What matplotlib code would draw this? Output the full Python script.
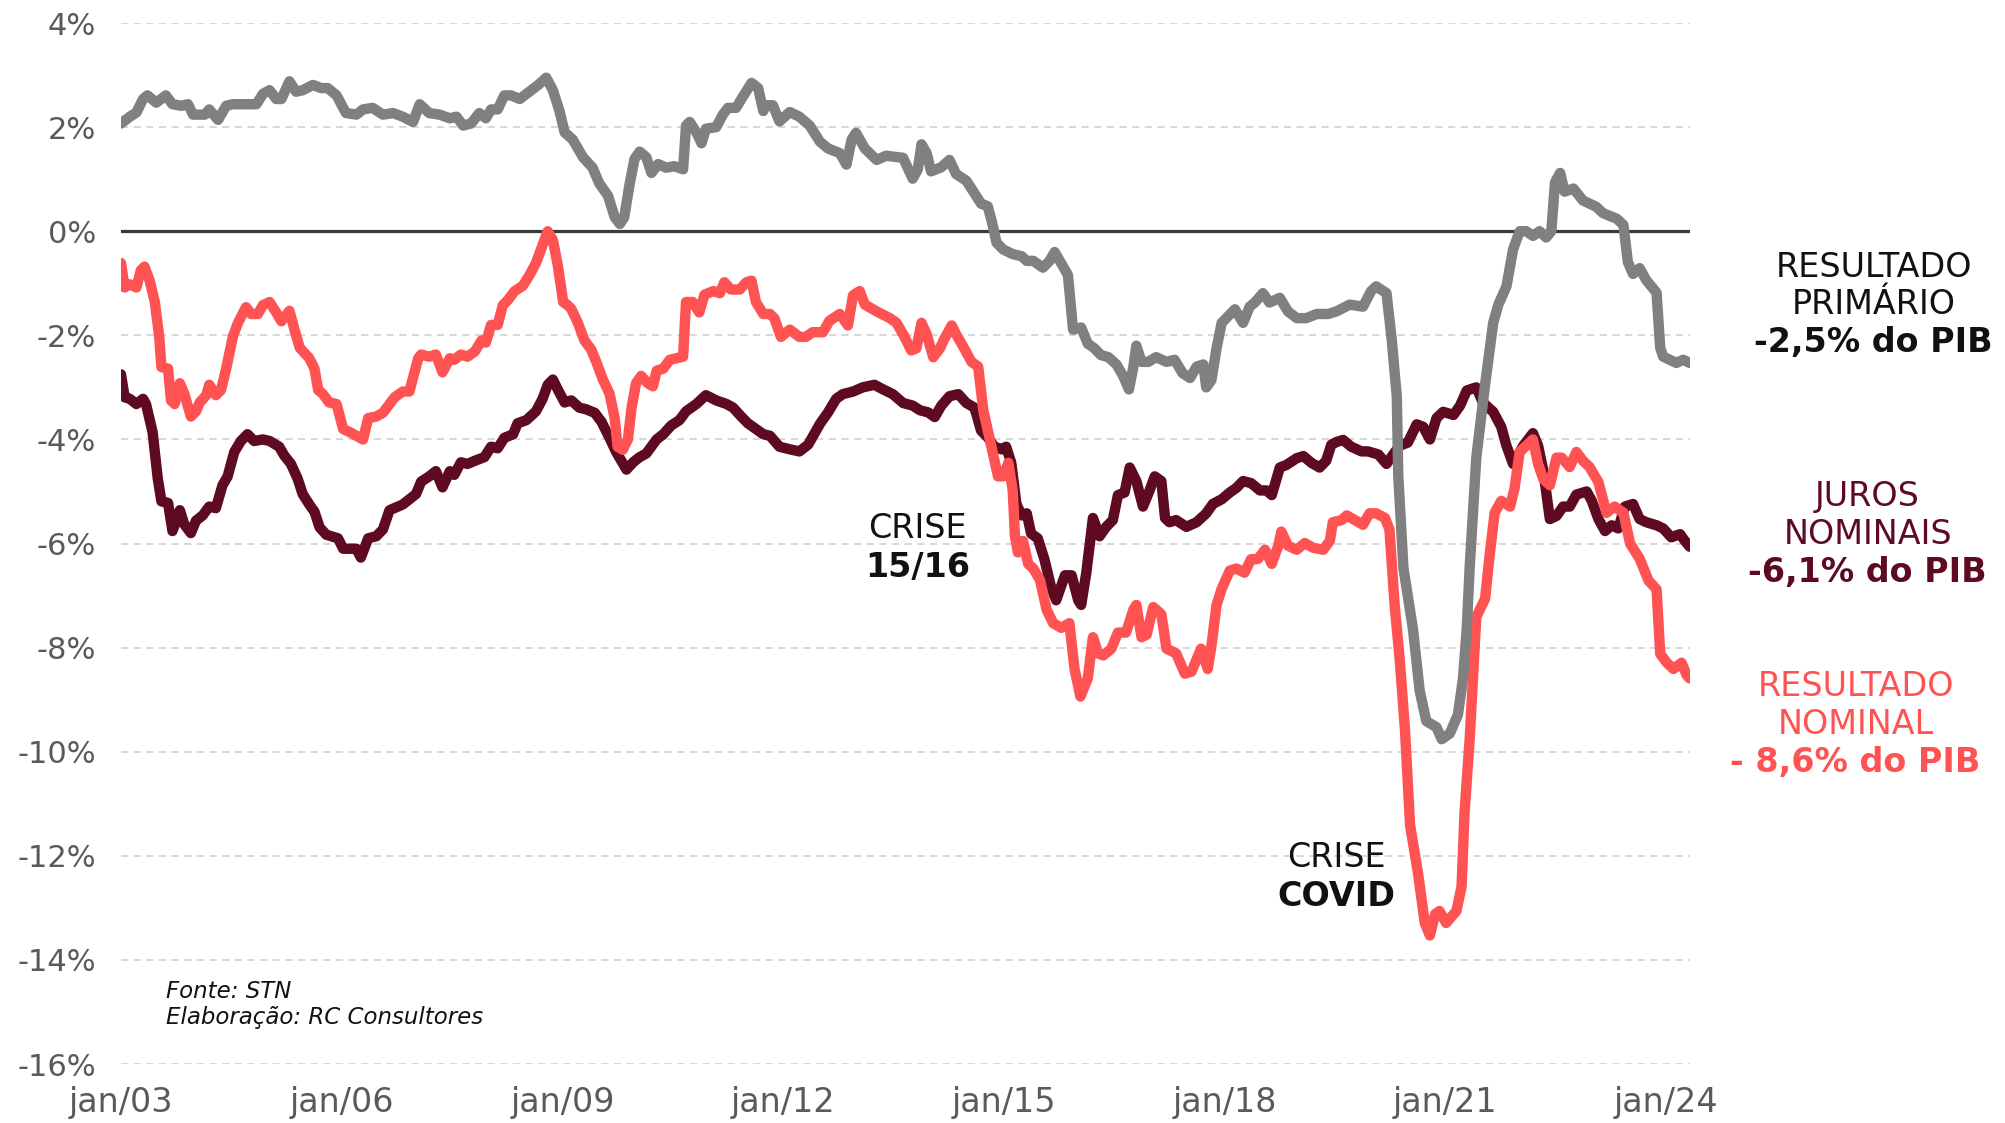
import matplotlib.pyplot as plt
import numpy as np

# Resultado primário, % do PIB (acumulado 12 meses)
prim_t = [2003.00, 2003.12, 2003.21, 2003.30, 2003.36, 2003.48, 2003.61, 2003.70, 2003.82, 2003.91,
          2003.98, 2004.14, 2004.20, 2004.32, 2004.43, 2004.52, 2004.75, 2004.84, 2004.93, 2005.02,
          2005.11, 2005.18, 2005.29, 2005.38, 2005.47, 2005.61, 2005.72, 2005.81, 2005.93, 2006.02,
          2006.06, 2006.20, 2006.29, 2006.42, 2006.56, 2006.70, 2006.83, 2006.97, 2007.06, 2007.19,
          2007.33, 2007.47, 2007.56, 2007.65, 2007.76, 2007.87, 2007.96, 2008.03, 2008.12, 2008.21,
          2008.30, 2008.42, 2008.55, 2008.67, 2008.78, 2008.87, 2008.96, 2009.03, 2009.14, 2009.28,
          2009.41, 2009.50, 2009.62, 2009.71, 2009.78, 2009.84, 2009.91, 2009.98, 2010.05, 2010.14,
          2010.21, 2010.30, 2010.41, 2010.52, 2010.64, 2010.68, 2010.73, 2010.82, 2010.89, 2010.95,
          2011.09, 2011.18, 2011.25, 2011.36, 2011.45, 2011.57, 2011.66, 2011.73, 2011.77, 2011.86,
          2011.95, 2012.09, 2012.22, 2012.36, 2012.50, 2012.61, 2012.77, 2012.86, 2012.93, 2012.99,
          2013.11, 2013.27, 2013.40, 2013.63, 2013.76, 2013.83, 2013.88, 2013.95, 2014.01, 2014.15,
          2014.26, 2014.35, 2014.49, 2014.63, 2014.69, 2014.78, 2014.83, 2014.90, 2014.99, 2015.12,
          2015.24, 2015.31, 2015.40, 2015.53, 2015.62, 2015.69, 2015.78, 2015.87, 2015.94, 2016.05,
          2016.14, 2016.23, 2016.32, 2016.42, 2016.53, 2016.62, 2016.70, 2016.76, 2016.80, 2016.87,
          2016.96, 2017.07, 2017.21, 2017.32, 2017.43, 2017.53, 2017.62, 2017.71, 2017.75, 2017.82,
          2017.89, 2017.96, 2018.05, 2018.14, 2018.25, 2018.34, 2018.41, 2018.52, 2018.61, 2018.75,
          2018.86, 2018.98, 2019.11, 2019.25, 2019.41, 2019.52, 2019.70, 2019.88, 2019.99, 2020.06,
          2020.20, 2020.27, 2020.34, 2020.36, 2020.43, 2020.56, 2020.65, 2020.74, 2020.88, 2020.95,
          2021.06, 2021.17, 2021.24, 2021.29, 2021.33, 2021.42, 2021.54, 2021.65, 2021.72, 2021.83,
          2021.92, 2022.01, 2022.10, 2022.19, 2022.28, 2022.37, 2022.44, 2022.49, 2022.56, 2022.62,
          2022.74, 2022.87, 2022.96, 2023.05, 2023.14, 2023.24, 2023.33, 2023.42, 2023.48, 2023.55,
          2023.64, 2023.73, 2023.87, 2023.92, 2023.96, 2024.05, 2024.14, 2024.23, 2024.32]
prim_v = [2.07, 2.20, 2.28, 2.54, 2.61, 2.47, 2.61, 2.44, 2.41, 2.44,
          2.24, 2.24, 2.34, 2.14, 2.41, 2.44, 2.44, 2.44, 2.64, 2.71,
          2.54, 2.54, 2.88, 2.68, 2.71, 2.81, 2.75, 2.75, 2.61, 2.37,
          2.27, 2.24, 2.34, 2.37, 2.24, 2.27, 2.20, 2.10, 2.44, 2.27,
          2.24, 2.17, 2.20, 2.03, 2.07, 2.27, 2.17, 2.34, 2.34, 2.61,
          2.61, 2.54, 2.68, 2.81, 2.95, 2.71, 2.31, 1.90, 1.76, 1.42,
          1.22, 0.92, 0.68, 0.27, 0.14, 0.27, 0.88, 1.39, 1.53, 1.42,
          1.12, 1.29, 1.22, 1.25, 1.19, 2.03, 2.10, 1.90, 1.69, 1.97,
          2.00, 2.24, 2.37, 2.37, 2.58, 2.85, 2.75, 2.31, 2.42, 2.42,
          2.11, 2.29, 2.20, 2.03, 1.72, 1.59, 1.50, 1.28, 1.76, 1.89,
          1.59, 1.37, 1.45, 1.41, 1.01, 1.19, 1.67, 1.50, 1.15, 1.23,
          1.37, 1.10, 0.97, 0.66, 0.53, 0.48, 0.22, -0.22, -0.35, -0.44,
          -0.48, -0.57, -0.57, -0.70, -0.57, -0.40, -0.62, -0.84, -1.89, -1.85,
          -2.16, -2.25, -2.38, -2.42, -2.56, -2.78, -3.04, -2.60, -2.20, -2.51,
          -2.51, -2.42, -2.51, -2.47, -2.73, -2.82, -2.60, -2.56, -3.00, -2.86,
          -2.25, -1.76, -1.63, -1.50, -1.76, -1.45, -1.37, -1.19, -1.37, -1.28,
          -1.54, -1.67, -1.67, -1.59, -1.59, -1.54, -1.41, -1.45, -1.15, -1.06,
          -1.19, -2.07, -3.18, -4.71, -6.47, -7.65, -8.82, -9.41, -9.53, -9.76,
          -9.65, -9.29, -8.59, -7.65, -6.47, -4.35, -2.94, -1.76, -1.41, -1.06,
          -0.35, 0.00, 0.00, -0.09, 0.00, -0.12, 0.00, 0.94, 1.12, 0.76,
          0.82, 0.59, 0.53, 0.47, 0.35, 0.29, 0.24, 0.12, -0.59, -0.82,
          -0.71, -0.94, -1.18, -2.24, -2.41, -2.47, -2.53, -2.47, -2.53]

# Juros nominais, % do PIB
juros_t = [2003.00, 2003.05, 2003.12, 2003.21, 2003.30, 2003.34, 2003.43, 2003.50, 2003.55, 2003.64,
           2003.70, 2003.80, 2003.86, 2003.95, 2004.02, 2004.11, 2004.20, 2004.29, 2004.38, 2004.45,
           2004.54, 2004.63, 2004.72, 2004.81, 2004.93, 2005.02, 2005.15, 2005.22, 2005.31, 2005.40,
           2005.47, 2005.56, 2005.63, 2005.70, 2005.79, 2005.95, 2006.02, 2006.20, 2006.26, 2006.36,
           2006.47, 2006.56, 2006.65, 2006.83, 2006.92, 2007.01, 2007.08, 2007.19, 2007.28, 2007.37,
           2007.47, 2007.53, 2007.62, 2007.71, 2007.81, 2007.94, 2008.03, 2008.12, 2008.21, 2008.33,
           2008.39, 2008.51, 2008.64, 2008.73, 2008.80, 2008.87, 2008.94, 2009.03, 2009.12, 2009.23,
           2009.32, 2009.44, 2009.53, 2009.64, 2009.73, 2009.87, 2009.96, 2010.05, 2010.14, 2010.28,
           2010.37, 2010.48, 2010.59, 2010.68, 2010.82, 2010.95, 2011.09, 2011.23, 2011.32, 2011.43,
           2011.52, 2011.63, 2011.73, 2011.82, 2011.95, 2012.09, 2012.22, 2012.34, 2012.50, 2012.61,
           2012.72, 2012.81, 2012.95, 2013.08, 2013.24, 2013.36, 2013.49, 2013.63, 2013.76, 2013.86,
           2013.97, 2014.06, 2014.15, 2014.26, 2014.38, 2014.49, 2014.60, 2014.69, 2014.78, 2014.87,
           2014.97, 2015.03, 2015.10, 2015.17, 2015.24, 2015.31, 2015.37, 2015.46, 2015.55, 2015.64,
           2015.71, 2015.83, 2015.92, 2016.01, 2016.05, 2016.12, 2016.21, 2016.30, 2016.39, 2016.48,
           2016.55, 2016.64, 2016.71, 2016.80, 2016.89, 2016.98, 2017.05, 2017.14, 2017.19, 2017.25,
           2017.34, 2017.48, 2017.62, 2017.75, 2017.84, 2017.96, 2018.07, 2018.16, 2018.25, 2018.36,
           2018.48, 2018.57, 2018.64, 2018.75, 2018.84, 2018.98, 2019.07, 2019.18, 2019.29, 2019.38,
           2019.45, 2019.52, 2019.61, 2019.72, 2019.86, 2019.95, 2020.09, 2020.20, 2020.29, 2020.38,
           2020.49, 2020.61, 2020.70, 2020.79, 2020.88, 2020.97, 2021.11, 2021.20, 2021.29, 2021.42,
           2021.51, 2021.65, 2021.76, 2021.83, 2021.92, 2022.06, 2022.19, 2022.26, 2022.33, 2022.42,
           2022.51, 2022.60, 2022.69, 2022.78, 2022.92, 2022.99, 2023.08, 2023.17, 2023.26, 2023.35,
           2023.44, 2023.55, 2023.64, 2023.73, 2023.87, 2023.96, 2024.07, 2024.19, 2024.25, 2024.32]
juros_v = [-2.75, -3.19, -3.22, -3.32, -3.22, -3.32, -3.86, -4.75, -5.19, -5.22,
           -5.76, -5.36, -5.63, -5.80, -5.56, -5.46, -5.29, -5.32, -4.88, -4.71,
           -4.24, -4.03, -3.90, -4.03, -4.00, -4.03, -4.14, -4.31, -4.47, -4.75,
           -5.05, -5.25, -5.39, -5.69, -5.83, -5.90, -6.10, -6.10, -6.27, -5.90,
           -5.86, -5.73, -5.36, -5.25, -5.15, -5.05, -4.81, -4.71, -4.61, -4.92,
           -4.61, -4.68, -4.44, -4.47, -4.41, -4.34, -4.14, -4.17, -3.97, -3.90,
           -3.69, -3.63, -3.46, -3.22, -2.95, -2.85, -3.05, -3.29, -3.25, -3.39,
           -3.42, -3.49, -3.66, -3.97, -4.24, -4.58, -4.44, -4.34, -4.27, -4.00,
           -3.90, -3.73, -3.63, -3.46, -3.32, -3.15, -3.25, -3.32, -3.39, -3.56,
           -3.69, -3.80, -3.90, -3.93, -4.14, -4.19, -4.23, -4.10, -3.70, -3.48,
           -3.22, -3.13, -3.08, -3.00, -2.95, -3.04, -3.13, -3.30, -3.35, -3.44,
           -3.48, -3.57, -3.35, -3.17, -3.13, -3.30, -3.39, -3.83, -3.96, -4.14,
           -4.19, -4.14, -4.45, -5.24, -5.46, -5.42, -5.81, -5.90, -6.30, -6.83,
           -7.09, -6.61, -6.61, -7.09, -7.18, -6.56, -5.51, -5.86, -5.68, -5.55,
           -5.07, -5.02, -4.54, -4.80, -5.29, -4.98, -4.71, -4.80, -5.51, -5.59,
           -5.55, -5.68, -5.59, -5.42, -5.24, -5.15, -5.02, -4.93, -4.80, -4.84,
           -4.98, -4.98, -5.07, -4.54, -4.49, -4.36, -4.32, -4.45, -4.54, -4.41,
           -4.10, -4.05, -4.01, -4.14, -4.23, -4.23, -4.29, -4.47, -4.29, -4.12,
           -4.06, -3.71, -3.76, -4.00, -3.59, -3.47, -3.53, -3.35, -3.06, -3.00,
           -3.29, -3.47, -3.76, -4.12, -4.47, -4.12, -3.88, -4.12, -4.59, -5.53,
           -5.47, -5.29, -5.29, -5.06, -5.00, -5.18, -5.53, -5.76, -5.65, -5.71,
           -5.29, -5.24, -5.53, -5.59, -5.65, -5.71, -5.88, -5.82, -5.94, -6.06]

# Resultado nominal, % do PIB
nom_t = [2003.00, 2003.05, 2003.12, 2003.21, 2003.27, 2003.32, 2003.39, 2003.46, 2003.52, 2003.55,
         2003.64, 2003.68, 2003.73, 2003.80, 2003.86, 2003.95, 2004.02, 2004.07, 2004.16, 2004.20,
         2004.29, 2004.36, 2004.43, 2004.52, 2004.59, 2004.70, 2004.77, 2004.86, 2004.93, 2005.02,
         2005.11, 2005.18, 2005.29, 2005.36, 2005.43, 2005.56, 2005.63, 2005.68, 2005.74, 2005.83,
         2005.93, 2006.02, 2006.11, 2006.20, 2006.29, 2006.36, 2006.47, 2006.56, 2006.65, 2006.72,
         2006.83, 2006.92, 2007.04, 2007.08, 2007.19, 2007.28, 2007.37, 2007.47, 2007.53, 2007.62,
         2007.71, 2007.81, 2007.90, 2007.96, 2008.03, 2008.12, 2008.19, 2008.26, 2008.35, 2008.46,
         2008.55, 2008.64, 2008.73, 2008.80, 2008.87, 2008.94, 2009.01, 2009.07, 2009.12, 2009.21,
         2009.30, 2009.39, 2009.46, 2009.55, 2009.64, 2009.71, 2009.75, 2009.82, 2009.89, 2009.94,
         2010.00, 2010.07, 2010.16, 2010.23, 2010.28, 2010.37, 2010.46, 2010.55, 2010.64, 2010.68,
         2010.77, 2010.86, 2010.93, 2011.05, 2011.14, 2011.20, 2011.29, 2011.41, 2011.50, 2011.57,
         2011.63, 2011.73, 2011.82, 2011.88, 2011.97, 2012.09, 2012.22, 2012.31, 2012.40, 2012.54,
         2012.63, 2012.77, 2012.88, 2012.95, 2013.04, 2013.11, 2013.27, 2013.45, 2013.54, 2013.65,
         2013.74, 2013.81, 2013.88, 2013.95, 2014.04, 2014.13, 2014.19, 2014.29, 2014.35, 2014.44,
         2014.56, 2014.65, 2014.72, 2014.81, 2014.92, 2014.99, 2015.06, 2015.12, 2015.15, 2015.19,
         2015.26, 2015.33, 2015.40, 2015.49, 2015.58, 2015.67, 2015.78, 2015.89, 2015.96, 2016.04,
         2016.14, 2016.21, 2016.28, 2016.35, 2016.46, 2016.55, 2016.66, 2016.76, 2016.80, 2016.87,
         2016.94, 2017.03, 2017.14, 2017.21, 2017.34, 2017.46, 2017.55, 2017.68, 2017.77, 2017.82,
         2017.89, 2017.96, 2018.07, 2018.16, 2018.27, 2018.36, 2018.45, 2018.55, 2018.64, 2018.73,
         2018.77, 2018.86, 2018.98, 2019.09, 2019.20, 2019.34, 2019.43, 2019.47, 2019.59, 2019.66,
         2019.77, 2019.88, 2019.97, 2020.06, 2020.18, 2020.24, 2020.31, 2020.38, 2020.45, 2020.52,
         2020.63, 2020.72, 2020.79, 2020.86, 2020.92, 2021.01, 2021.15, 2021.22, 2021.26, 2021.33,
         2021.42, 2021.54, 2021.60, 2021.67, 2021.76, 2021.88, 2021.94, 2022.01, 2022.10, 2022.19,
         2022.26, 2022.33, 2022.42, 2022.51, 2022.58, 2022.69, 2022.78, 2022.87, 2022.96, 2023.08,
         2023.19, 2023.30, 2023.42, 2023.51, 2023.64, 2023.76, 2023.87, 2023.92, 2024.01, 2024.10,
         2024.21, 2024.28, 2024.32]
nom_v = [-0.61, -1.08, -1.02, -1.08, -0.75, -0.68, -0.95, -1.36, -2.03, -2.61,
         -2.64, -3.25, -3.32, -2.92, -3.12, -3.56, -3.46, -3.29, -3.15, -2.95,
         -3.15, -3.05, -2.64, -2.03, -1.76, -1.46, -1.59, -1.59, -1.42, -1.36,
         -1.56, -1.73, -1.53, -1.90, -2.24, -2.44, -2.64, -3.05, -3.12, -3.29,
         -3.32, -3.80, -3.86, -3.93, -4.00, -3.59, -3.56, -3.49, -3.32, -3.19,
         -3.08, -3.08, -2.44, -2.37, -2.41, -2.37, -2.71, -2.44, -2.47, -2.37,
         -2.41, -2.31, -2.10, -2.14, -1.80, -1.80, -1.42, -1.32, -1.15, -1.05,
         -0.85, -0.61, -0.27, 0.00, -0.17, -0.68, -1.36, -1.42, -1.49, -1.76,
         -2.10, -2.27, -2.51, -2.85, -3.12, -3.59, -4.14, -4.20, -4.00, -3.39,
         -2.92, -2.78, -2.92, -2.98, -2.68, -2.64, -2.47, -2.44, -2.41, -1.36,
         -1.36, -1.56, -1.22, -1.15, -1.19, -0.98, -1.12, -1.12, -0.98, -0.95,
         -1.36, -1.59, -1.59, -1.67, -2.03, -1.89, -2.03, -2.03, -1.94, -1.94,
         -1.72, -1.59, -1.81, -1.23, -1.15, -1.41, -1.54, -1.67, -1.76, -2.03,
         -2.29, -2.25, -1.76, -1.98, -2.42, -2.25, -2.07, -1.81, -1.98, -2.20,
         -2.51, -2.60, -3.44, -4.01, -4.71, -4.71, -4.45, -4.98, -5.86, -6.17,
         -5.95, -6.39, -6.48, -6.70, -7.27, -7.53, -7.62, -7.53, -8.41, -8.94,
         -8.59, -7.80, -8.11, -8.15, -8.02, -7.71, -7.71, -7.27, -7.18, -7.80,
         -7.75, -7.22, -7.36, -8.02, -8.11, -8.50, -8.46, -8.02, -8.41, -7.97,
         -7.18, -6.87, -6.52, -6.48, -6.56, -6.30, -6.30, -6.12, -6.39, -6.04,
         -5.77, -6.04, -6.12, -5.99, -6.08, -6.12, -5.95, -5.59, -5.55, -5.46,
         -5.55, -5.64, -5.42, -5.42, -5.51, -5.73, -7.18, -8.24, -9.56, -11.41,
         -12.35, -13.29, -13.53, -13.12, -13.06, -13.29, -13.06, -12.59, -11.18, -9.76,
         -7.41, -7.06, -6.24, -5.41, -5.18, -5.29, -4.94, -4.24, -4.12, -4.00,
         -4.47, -4.76, -4.88, -4.35, -4.35, -4.53, -4.24, -4.41, -4.53, -4.82,
         -5.41, -5.29, -5.41, -6.00, -6.29, -6.71, -6.88, -8.12, -8.29, -8.41,
         -8.29, -8.53, -8.59]

tick_years = [2003, 2006, 2009, 2012, 2015, 2018, 2021, 2024]
tick_labels = ['jan/03', 'jan/06', 'jan/09', 'jan/12', 'jan/15', 'jan/18', 'jan/21', 'jan/24']
y_ticks = [4, 2, 0, -2, -4, -6, -8, -10, -12, -14, -16]

FONT = 'DejaVu Sans'
GRAY = '#808080'
WINE = '#5e0b22'
RED = '#ff5353'

fig = plt.figure(figsize=(20.06, 11.23), dpi=100)
ax = fig.add_axes([0.0603, 0.0525, 0.782, 0.927])

for v in y_ticks:
    if v == 0:
        ax.axhline(0, color='#3a3a3a', lw=2.3, zorder=2)
    else:
        ax.axhline(v, color='#d4d4d4', lw=1.3, ls=(0, (4, 3)), zorder=1)

ax.plot(juros_t, juros_v, color=WINE, lw=7.5, solid_capstyle='round', solid_joinstyle='round', zorder=3)
ax.plot(nom_t, nom_v, color=RED, lw=7.5, solid_capstyle='round', solid_joinstyle='round', zorder=4)
ax.plot(prim_t, prim_v, color=GRAY, lw=7.5, solid_capstyle='round', solid_joinstyle='round', zorder=5)

ax.set_xlim(2003.0, 2024.32)
ax.set_ylim(-16, 4)
ax.set_yticks(y_ticks)
ax.set_yticklabels([f'{v}%' for v in y_ticks])
ax.set_xticks(tick_years)
ax.set_xticklabels(tick_labels)
ax.tick_params(axis='y', length=0, labelsize=22, labelcolor='#5a5a5a', pad=18)
ax.tick_params(axis='x', length=0, labelsize=24, labelcolor='#5a5a5a', pad=16)
for lab in ax.get_xticklabels() + ax.get_yticklabels():
    lab.set_family(FONT)
for s in ax.spines.values():
    s.set_visible(False)

# crisis notes
ax.text(2013.83, -5.72, 'CRISE', ha='center', va='center', fontsize=24, family=FONT, color='#111111')
ax.text(2013.83, -6.46, '15/16', ha='center', va='center', fontsize=24, family=FONT,
        fontweight='bold', color='#111111')
ax.text(2019.52, -12.04, 'CRISE', ha='center', va='center', fontsize=24, family=FONT, color='#111111')
ax.text(2019.52, -12.78, 'COVID', ha='center', va='center', fontsize=24, family=FONT,
        fontweight='bold', color='#111111')

# series labels on the right
fig.text(0.934, 0.762, 'RESULTADO', ha='center', va='center', fontsize=24, family=FONT, color='#111111')
fig.text(0.934, 0.729, 'PRIMÁRIO', ha='center', va='center', fontsize=24, family=FONT, color='#111111')
fig.text(0.934, 0.695, '-2,5% do PIB', ha='center', va='center', fontsize=24, family=FONT,
         fontweight='bold', color='#111111')

fig.text(0.931, 0.558, 'JUROS', ha='center', va='center', fontsize=24, family=FONT, color=WINE)
fig.text(0.931, 0.524, 'NOMINAIS', ha='center', va='center', fontsize=24, family=FONT, color=WINE)
fig.text(0.931, 0.490, '-6,1% do PIB', ha='center', va='center', fontsize=24, family=FONT,
         fontweight='bold', color=WINE)

fig.text(0.925, 0.389, 'RESULTADO', ha='center', va='center', fontsize=24, family=FONT, color=RED)
fig.text(0.925, 0.355, 'NOMINAL', ha='center', va='center', fontsize=24, family=FONT, color=RED)
fig.text(0.925, 0.321, '- 8,6% do PIB', ha='center', va='center', fontsize=24, family=FONT,
         fontweight='bold', color=RED)

# source
fig.text(0.0828, 0.1175, 'Fonte: STN', ha='left', va='center', fontsize=16.5,
         family='DejaVu Sans', style='italic', color='#111111')
fig.text(0.0828, 0.0935, 'Elaboração: RC Consultores', ha='left', va='center', fontsize=16.5,
         family='DejaVu Sans', style='italic', color='#111111')

fig.savefig('out.png', dpi=100)
